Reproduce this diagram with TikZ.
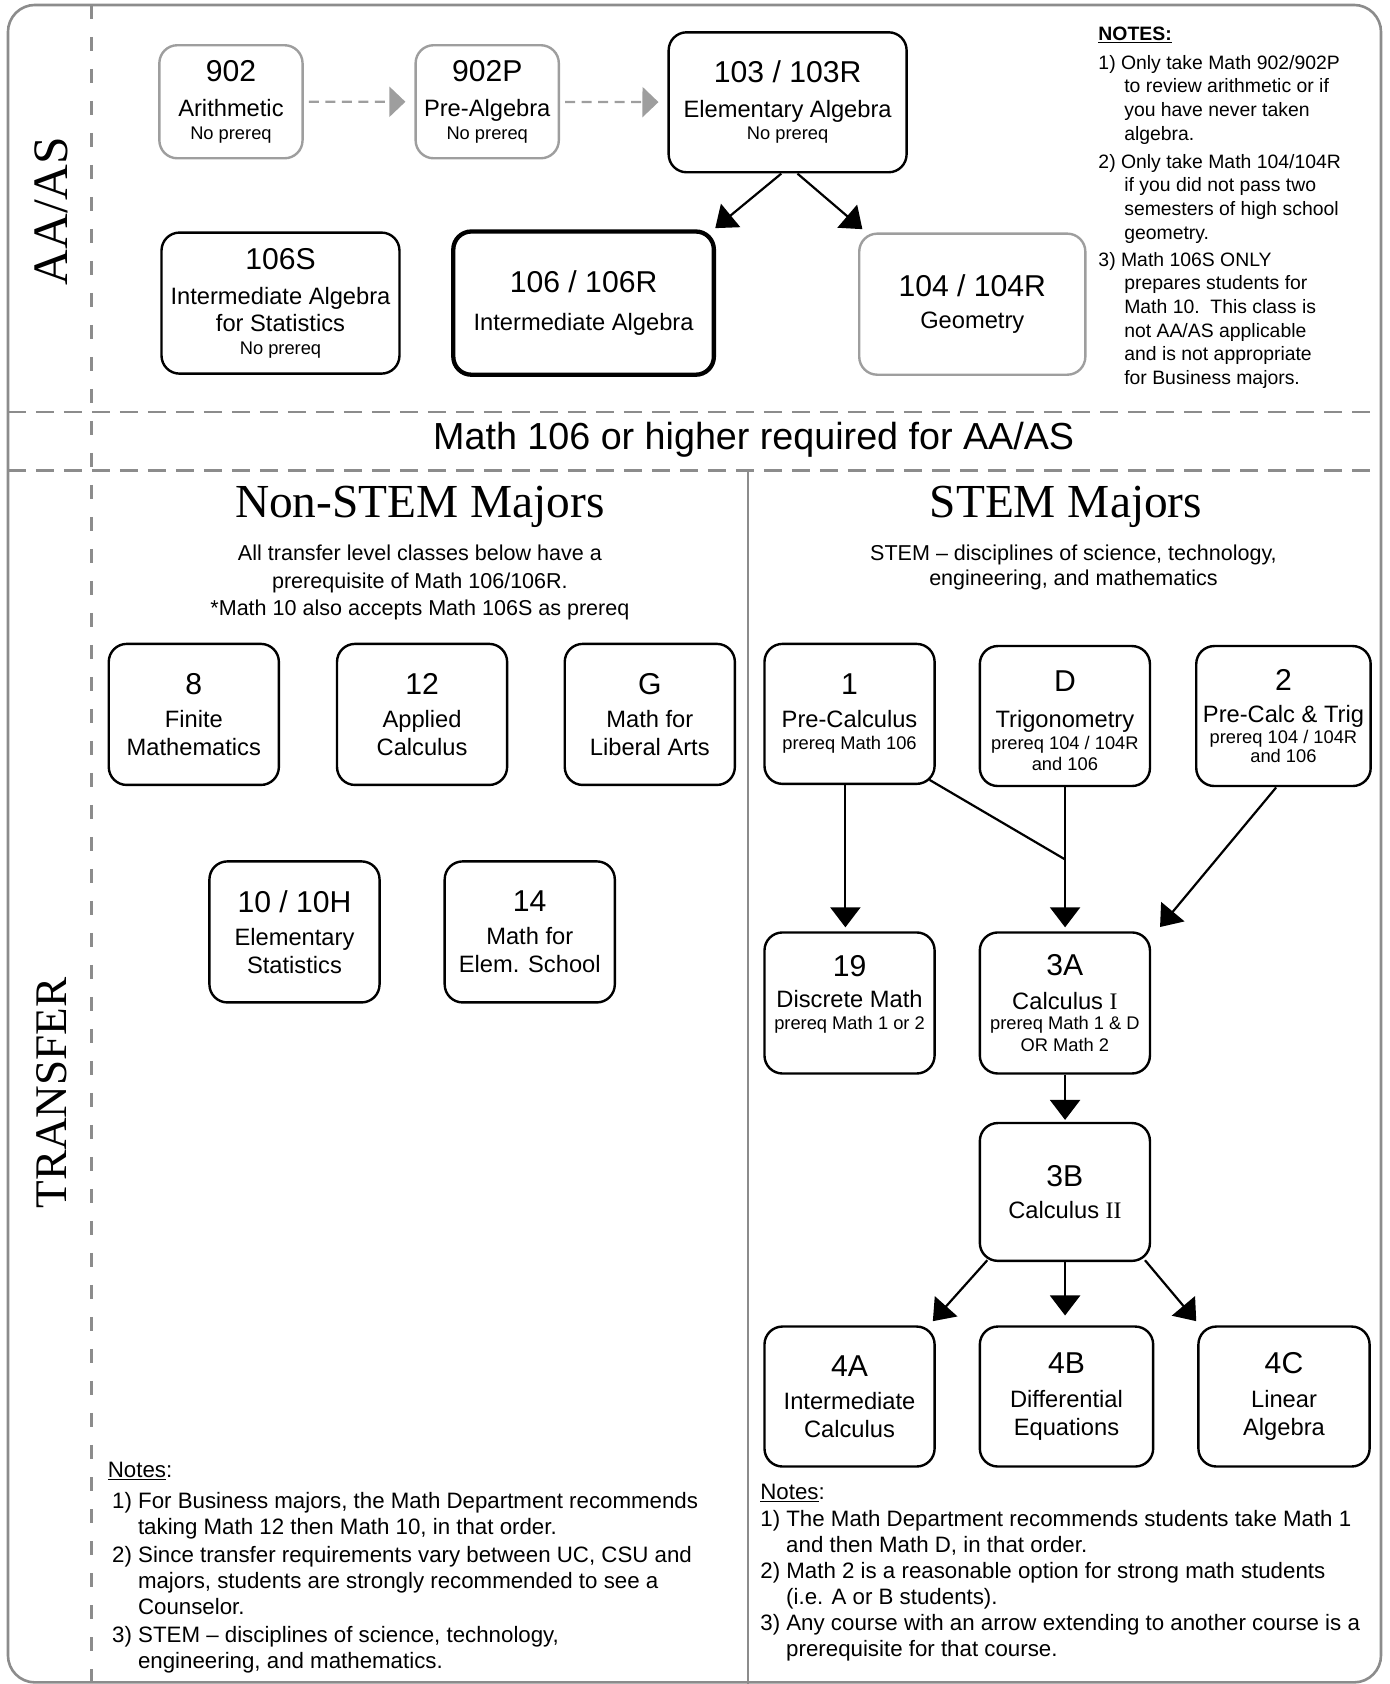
\documentclass[tikz,border=0pt]{standalone}
\usepackage{fontspec}
\setmainfont{Liberation Sans}
\newfontfamily\seriffont{Liberation Serif}
\usetikzlibrary{calc,arrows.meta}

\definecolor{framegray}{gray}{0.55}
\definecolor{boxgray}{gray}{0.62}
\newcommand\numsize{\fontsize{28}{32}\selectfont}
\newcommand\subsize{\fontsize{17}{20}\selectfont}
\newcommand\noteindent{\hspace*{24pt}}

\begin{document}
\begin{tikzpicture}[x=1pt, y=-1pt, scale=1.0767, every node/.style={scale=1.0767},
  course/.style={draw, line width=2.4pt, rounded corners=18pt, align=center,
    inner sep=0pt, minimum width=158pt, minimum height=131pt,
    font=\fontsize{22}{26}\selectfont},
  graycourse/.style={course, draw=boxgray},
  link/.style={line width=2.2pt, -{Triangle[width=30pt,length=20pt]}},
  dashlink/.style={boxgray, line width=2.2pt, dash pattern=on 10pt off 6.5pt,
    shorten <=5pt, shorten >=9pt, -{Triangle[width=30pt,length=16pt]}},
  divider/.style={framegray, line width=2.2pt, dash pattern=on 18pt off 10pt},
  notes/.style={align=left, inner sep=0pt, anchor=north west}]
  \useasboundingbox (0,0) rectangle (1290.05,1564);

  % Frame and dividers
  \draw[framegray, line width=2.6pt, rounded corners=27pt] (7.4,4.6) rectangle (1282.6,1562.5);
  \draw[framegray, line width=2.2pt, dash pattern=on 14pt off 18pt] (85,4.6) -- (85,1564);
  \draw[divider] (7.4,383) -- (1282.6,383);
  \draw[divider] (7.4,437) -- (1282.6,437);
  \draw[framegray, line width=2.2pt] (695,437) -- (695,1564);

  % Side labels
  \node[rotate=90, font=\seriffont\fontsize{46}{46}\selectfont] (aaas) at (48,196) {AA/AS};
  \node[rotate=90, font=\seriffont\fontsize{42}{42}\selectfont] (transfer) at (48,1015) {TRANSFER};

  % AA/AS courses
  \node[graycourse, minimum width=133pt, minimum height=105pt] (m902) at (214.5,94.5)
    {{\numsize 902}\\[7pt]Arithmetic\\[-5pt]{\subsize No prereq}};
  \node[graycourse, minimum width=133pt, minimum height=105pt] (m902P) at (452.5,94.5)
    {{\numsize 902P}\\[7pt]Pre-Algebra\\[-5pt]{\subsize No prereq}};
  \node[course, minimum width=221pt, minimum height=130pt] (m103) at (731.5,95)
    {{\numsize 103 / 103R}\\[6pt]Elementary Algebra\\[-5pt]{\subsize No prereq}};
  \node[course, minimum width=221pt] (m106S) at (260.5,281.5)
    {{\numsize 106S}\\[7pt]Intermediate Algebra\\[-1pt]for Statistics\\[-5pt]{\subsize No prereq}};
  \node[course, line width=4.3pt, minimum width=242pt, minimum height=133pt] (m106) at (542,281.5)
    {{\numsize 106 / 106R}\\[9pt]Intermediate Algebra};
  \node[graycourse, minimum width=210pt] (m104) at (903,282.5)
    {{\numsize 104 / 104R}\\[4pt]Geometry};

  \draw[dashlink] (m902) -- (m902P);
  \draw[dashlink] (m902P) -- (m103);
  \draw[link] ($(m103.south)+(-6,0)$) -- ($(m106.north east)+(-1,-1)$);
  \draw[link] ($(m103.south)+(9,0)$) -- ($(m104.north west)+(4,-3)$);

  % Notes for AA/AS
  \node[notes, font=\fontsize{18}{22}\selectfont] (topnotes) at (1020,25)
    {{\bfseries\underline{NOTES:}}\\[4.5pt]
     1) Only take Math 902/902P\\ \noteindent to review arithmetic or if\\
     \noteindent you have never taken\\ \noteindent algebra.\\[4pt]
     2) Only take Math 104/104R\\ \noteindent if you did not pass two\\
     \noteindent semesters of high school\\ \noteindent geometry.\\[3pt]
     3) Math 106S ONLY\\ \noteindent prepares students for\\
     \noteindent Math 10.\ \ This class is\\ \noteindent not AA/AS applicable\\
     \noteindent and is not appropriate\\ \noteindent for Business majors.};

  \node[font=\fontsize{35}{35}\selectfont] (required) at (700,408) {Math 106 or higher required for AA/AS};

  % Non-STEM side
  \node[font=\seriffont\fontsize{44}{44}\selectfont] (nonstem) at (390,471) {Non-STEM Majors};
  \node[align=center, font=\fontsize{20}{25.5}\selectfont] (nonstemsub) at (390,541)
    {All transfer level classes below have a\\ prerequisite of Math 106/106R.\\
     *Math 10 also accepts Math 106S as prereq};
  \node[course] (n8) at (180,663.5) {{\numsize 8}\\[5pt]Finite\\Mathematics};
  \node[course] (n12) at (392,663.5) {{\numsize 12}\\[5pt]Applied\\Calculus};
  \node[course] (nG) at (603.5,663.5) {{\numsize G}\\[5pt]Math for\\Liberal Arts};
  \node[course] (n10) at (273.5,865.5) {{\numsize 10 / 10H}\\[5pt]Elementary\\Statistics};
  \node[course] (n14) at (492,865.5) {{\numsize 14}\\[5pt]Math for\\Elem. School};

  % STEM side
  \node[font=\seriffont\fontsize{44}{44}\selectfont] (stem) at (990,471) {STEM Majors};
  \node[align=center, font=\fontsize{20}{23}\selectfont] (stemsub) at (997,527)
    {STEM – disciplines of science, technology,\\ engineering, and mathematics};
  \node[course, minimum height=130pt] (s1) at (789,663)
    {{\numsize 1}\\[4pt]Pre-Calculus\\[-5pt]{\subsize prereq Math 106}};
  \node[course, minimum height=130pt] (sD) at (989,665)
    {{\numsize\rule{0pt}{28pt}D}\\[7pt]Trigonometry\\[-5pt]{\subsize prereq 104 / 104R}\\[-7pt]{\subsize and 106}};
  \node[course, minimum width=162pt, minimum height=130pt] (s2) at (1192,665)
    {{\numsize 2}\\[4pt]Pre-Calc \& Trig\\[-7pt]{\subsize prereq 104 / 104R}\\[-8pt]{\subsize and 106}};
  \node[course] (s19) at (789,931.5)
    {{\numsize 19}\\[3pt]Discrete Math\\[-6pt]{\subsize prereq Math 1 or 2}\\[-6pt]{\subsize\phantom{O}}};
  \node[course] (s3A) at (989,931.5)
    {{\numsize 3A}\\[5pt]Calculus {\seriffont I}\\[-7pt]{\subsize prereq Math 1 \& D}\\[-6pt]{\subsize OR Math 2}};
  \node[course, minimum height=128pt] (s3B) at (989,1107)
    {{\numsize 3B}\\[4pt]Calculus {\seriffont II}};
  \node[course, minimum height=130pt] (s4A) at (789,1297) {{\numsize 4A}\\[5pt]Intermediate\\Calculus};
  \node[course, minimum width=161pt, minimum height=130pt] (s4B) at (990.5,1297) {{\numsize 4B}\\[5pt]Differential\\Equations};
  \node[course, minimum width=159pt, minimum height=130pt] (s4C) at (1192.5,1297) {{\numsize 4C}\\[5pt]Linear\\Algebra};

  % Prerequisite arrows
  \coordinate (join) at ($(sD.south)!0.5!(s3A.north)$);
  \draw[line width=2.2pt] ($(s1.south east)+(-6,-5)$) -- (join);
  \draw[link, shorten >=4pt] ($(s1.south)+(-4,0)$) -- ($(s19.north)+(-4,0)$);
  \draw[link, shorten >=4pt] (sD.south) -- (s3A.north);
  \draw[link] ($(s2.south)+(-7,0)$) -- ($(s3A.north east)+(8,-4)$);
  \draw[link, shorten >=2pt] (s3A.south) -- (s3B.north);
  \draw[link] ($(s3B.south west)+(8,-2)$) -- ($(s4A.north east)+(-3,-4)$);
  \draw[link, shorten >=10pt] (s3B.south) -- (s3B.south |- s4B.north);
  \draw[link] ($(s3B.south east)+(-6,-2)$) -- ($(s4C.north west)+(-1,-4)$);

  % Notes at the bottom
  \node[notes, font=\fontsize{20.7}{24}\selectfont] (leftnotes) at (100,1358)
    {\underline{Notes}:\\[5pt]
     \hspace*{4pt}1) For Business majors, the Math Department recommends\\
     \hspace*{4pt}\noteindent taking Math 12 then Math 10, in that order.\\[2pt]
     \hspace*{4pt}2) Since transfer requirements vary between UC, CSU and\\
     \hspace*{4pt}\noteindent majors, students are strongly recommended to see a\\
     \hspace*{4pt}\noteindent Counselor.\\[2pt]
     \hspace*{4pt}3) STEM – disciplines of science, technology,\\
     \hspace*{4pt}\noteindent engineering, and mathematics.};
  \node[notes, font=\fontsize{20.7}{24.2}\selectfont] (rightnotes) at (706,1378)
    {\underline{Notes}:\\[1pt]
     1) The Math Department recommends students take Math 1\\
     \noteindent and then Math D, in that order.\\
     2) Math 2 is a reasonable option for strong math students\\
     \noteindent (i.e. A or B students).\\
     3) Any course with an arrow extending to another course is a\\
     \noteindent prerequisite for that course.};
\end{tikzpicture}
\end{document}
